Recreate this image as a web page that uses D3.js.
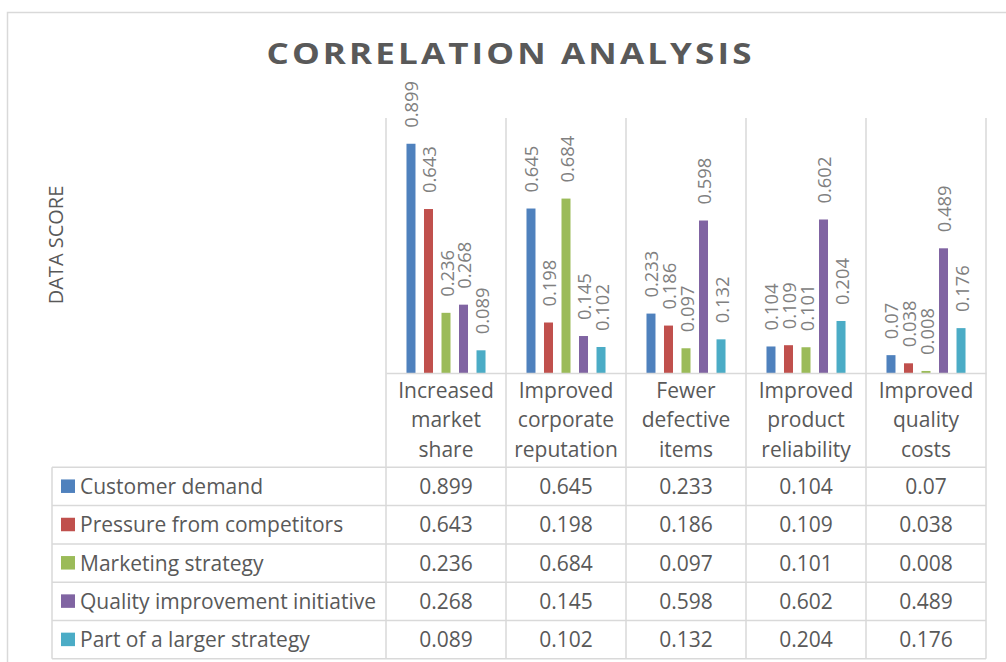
<!DOCTYPE html>
<html>
<head>
<meta charset="utf-8">
<script src="https://cdn.jsdelivr.net/npm/d3@7"></script>
<style>
  body { margin: 0; background: #fff; }
  svg { display: block; font-family: "Open Sans", sans-serif; }
</style>
</head>
<body>
<div id="chart"></div>
<script>
const categories = [
  "Increased market share",
  "Improved corporate reputation",
  "Fewer defective items",
  "Improved product reliability",
  "Improved quality costs"
];
const seriesNames = [
  "Customer demand",
  "Pressure from competitors",
  "Marketing strategy",
  "Quality improvement initiative",
  "Part of a larger strategy"
];
const customerDemand = [0.899, 0.645, 0.233, 0.104, 0.07];
const pressureFromCompetitors = [0.643, 0.198, 0.186, 0.109, 0.038];
const marketingStrategy = [0.236, 0.684, 0.097, 0.101, 0.008];
const qualityInitiative = [0.268, 0.145, 0.598, 0.602, 0.489];
const largerStrategy = [0.089, 0.102, 0.132, 0.204, 0.176];
const seriesColors = ["#4f81bd", "#c0504d", "#9bbb59", "#8064a2", "#4bacc6"];

const seriesValues = [customerDemand, pressureFromCompetitors, marketingStrategy, qualityInitiative, largerStrategy];

const width = 1006, height = 662;
const plot = { left: 386, right: 986, top: 118, bottom: 373 };
const tableTop = 467.3, rowH = 38.3, legendLeft = 52;
const tableBottom = tableTop + rowH * seriesNames.length;
const gridColor = "#d9d9d9";

const svg = d3.select("#chart")
  .append("svg")
  .attr("width", width)
  .attr("height", height);

// chart frame (only top and left edges show in the crop)
svg.append("path")
  .attr("d", `M7.5,${height} V12.5 H${width}`)
  .attr("fill", "none")
  .attr("stroke", gridColor)
  .attr("stroke-width", 1.5);

const x0 = d3.scaleBand()
  .domain(categories)
  .range([plot.left, plot.right]);

const x1 = d3.scaleBand()
  .domain(seriesNames)
  .range([0, x0.bandwidth()])
  .paddingInner(0.486)
  .paddingOuter(1.17);

const y = d3.scaleLinear()
  .domain([0, 1])
  .range([plot.bottom, plot.top]);

// title (wide letterforms, so stretch a little)
svg.append("text")
  .attr("transform", "translate(510.5,64) scale(1.25,1)")
  .attr("text-anchor", "middle")
  .attr("fill", "#595959")
  .style("font-size", "28px")
  .style("font-weight", "bold")
  .style("letter-spacing", "2.5px")
  .text("CORRELATION ANALYSIS");

// y axis title
svg.append("text")
  .attr("transform", "translate(55,245) rotate(-90)")
  .attr("text-anchor", "middle")
  .attr("dominant-baseline", "central")
  .attr("fill", "#595959")
  .style("font-size", "20px")
  .text("DATA SCORE");

// vertical gridlines, running down through the data table
const bounds = categories.map(c => x0(c)).concat([x0.range()[1]]);
svg.append("g")
  .selectAll("line")
  .data(bounds)
  .join("line")
  .attr("x1", d => d).attr("x2", d => d)
  .attr("y1", plot.top).attr("y2", tableBottom)
  .attr("stroke", gridColor)
  .attr("stroke-width", 1.5);

// bars
const groups = svg.append("g")
  .selectAll("g")
  .data(categories)
  .join("g")
  .attr("transform", c => `translate(${x0(c)},0)`);

groups.selectAll("rect")
  .data((c, ci) => seriesNames.map((s, si) => ({ s, si, v: seriesValues[si][ci] })))
  .join("rect")
  .attr("x", d => x1(d.s))
  .attr("width", x1.bandwidth())
  .attr("y", d => y(d.v))
  .attr("height", d => y(0) - y(d.v))
  .attr("fill", d => seriesColors[d.si]);

// rotated data labels
groups.selectAll("text")
  .data((c, ci) => seriesNames.map((s, si) => ({ s, si, v: seriesValues[si][ci] })))
  .join("text")
  .attr("transform", d => `translate(${x1(d.s) + x1.bandwidth() / 2},${y(d.v) - 16}) rotate(-90)`)
  .attr("dominant-baseline", "central")
  .attr("fill", "#808080")
  .style("font-size", "18.4px")
  .text(d => String(d.v));

// category axis line
const xAxis = svg.append("g")
  .attr("transform", `translate(0,${plot.bottom})`)
  .call(d3.axisBottom(x0).tickSize(0).tickSizeOuter(0).tickFormat(""));
xAxis.select(".domain").attr("stroke", gridColor).attr("stroke-width", 1.5);

// category header cells
const headerBase = [398, 427.3, 456.7];
svg.append("g")
  .selectAll("text")
  .data(categories)
  .join("text")
  .attr("text-anchor", "middle")
  .attr("fill", "#595959")
  .style("font-size", "21px")
  .each(function (c) {
    d3.select(this).selectAll("tspan")
      .data(c.split(" "))
      .join("tspan")
      .attr("x", x0(c) + x0.bandwidth() / 2)
      .attr("y", (w, i) => headerBase[i])
      .text(w => w);
  });

// data table grid
svg.append("g")
  .selectAll("line")
  .data(d3.range(seriesNames.length + 1))
  .join("line")
  .attr("x1", legendLeft).attr("x2", plot.right)
  .attr("y1", i => tableTop + i * rowH).attr("y2", i => tableTop + i * rowH)
  .attr("stroke", gridColor)
  .attr("stroke-width", 1.5);

svg.append("line")
  .attr("x1", legendLeft).attr("x2", legendLeft)
  .attr("y1", tableTop).attr("y2", tableBottom)
  .attr("stroke", gridColor)
  .attr("stroke-width", 1.5);

const rows = svg.append("g")
  .selectAll("g")
  .data(seriesNames)
  .join("g")
  .attr("transform", (s, i) => `translate(0,${tableTop + i * rowH})`);

rows.append("rect")
  .attr("x", 61)
  .attr("y", rowH / 2 - 7)
  .attr("width", 14)
  .attr("height", 13.5)
  .attr("fill", (s, i) => seriesColors[i]);

rows.append("text")
  .attr("x", 80)
  .attr("y", rowH / 2 + 7.6)
  .attr("fill", "#595959")
  .style("font-size", "21px")
  .text(s => s);

rows.selectAll(".val")
  .data((s, si) => categories.map((c, ci) => ({ c, v: seriesValues[si][ci] })))
  .join("text")
  .attr("class", "val")
  .attr("x", d => x0(d.c) + x0.bandwidth() / 2)
  .attr("y", rowH / 2 + 7.6)
  .attr("text-anchor", "middle")
  .attr("fill", "#595959")
  .style("font-size", "21px")
  .text(d => String(d.v));
</script>
</body>
</html>
